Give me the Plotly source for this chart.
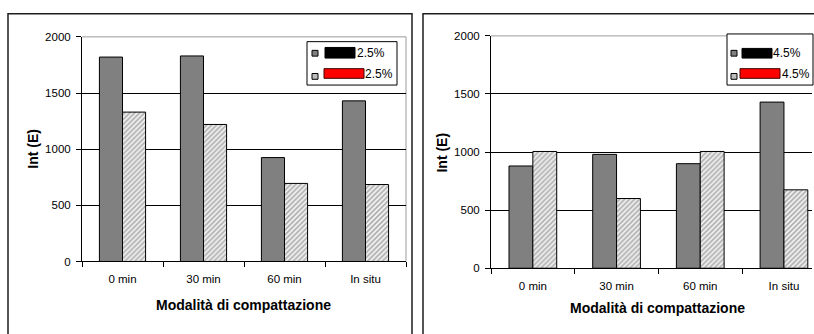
import plotly.graph_objects as go

# ---- data -------------------------------------------------------------
categories = ["0 min", "30 min", "60 min", "In situ"]

solid_25 = [1820, 1830, 925, 1430]
hatch_25 = [1330, 1220, 695, 685]

solid_45 = [880, 980, 900, 1430]
hatch_45 = [1005, 600, 1005, 675]

legend_25 = ["2.5%", "2.5%"]
legend_45 = ["4.5%", "4.5%"]

y_ticks = [0, 500, 1000, 1500, 2000]

# ---- canvas helpers ---------------------------------------------------
W, H = 814, 334
FONT = "Liberation Sans, Arial, sans-serif"


def px(x):
    return x / W


def py(y):
    return 1 - y / H


fig = go.Figure()

dark = "#808080"
pattern = dict(shape="/", size=3.5, solidity=0.5, fgcolor="#6a6a6a", bgcolor="#f4f4f4")

for vals, hvals, xa, ya in [(solid_25, hatch_25, "x", "y"), (solid_45, hatch_45, "x2", "y2")]:
    fig.add_trace(go.Bar(x=categories, y=vals, xaxis=xa, yaxis=ya, showlegend=False,
                         marker=dict(color=dark, line=dict(color="black", width=1))))
    fig.add_trace(go.Bar(x=categories, y=hvals, xaxis=xa, yaxis=ya, showlegend=False,
                         marker=dict(color="white", pattern=pattern,
                                     line=dict(color="black", width=1))))

xcommon = dict(type="category", tickson="boundaries", ticks="outside", ticklen=5,
               tickcolor="black", showline=True, linecolor="black", linewidth=1,
               showgrid=False, tickfont=dict(family=FONT, size=11.5, color="black"),
               ticklabelstandoff=7, fixedrange=True)
ycommon = dict(range=[0, 2000], tickvals=y_ticks, ticks="outside", ticklen=5,
               tickcolor="black", showline=True, linecolor="black", linewidth=1,
               showgrid=True, gridcolor="black", gridwidth=1, zeroline=False,
               tickfont=dict(family=FONT, size=11.5, color="black"),
               ticklabelstandoff=3, fixedrange=True)

fig.update_layout(
    width=W, height=H,
    margin=dict(l=0, r=0, t=0, b=0),
    paper_bgcolor="white", plot_bgcolor="white",
    barmode="group", bargap=0.43, bargroupgap=0,
    xaxis=dict(xcommon, domain=[px(82), px(406)], range=[-0.5, 3.5], anchor="y"),
    yaxis=dict(ycommon, domain=[py(265), py(32)], anchor="x"),
    xaxis2=dict(xcommon, domain=[px(491), px(812)], range=[-0.5, 3.335], anchor="y2"),
    yaxis2=dict(ycommon, domain=[py(272), py(31)], anchor="x2"),
    showlegend=False,
)

shapes = []
annotations = []


def rect(x0, y0, x1, y1, line_color="black", width=1, fill=None, layer="above"):
    shapes.append(dict(type="rect", xref="paper", yref="paper",
                       x0=px(x0), x1=px(x1), y0=py(y1), y1=py(y0),
                       line=dict(color=line_color, width=width),
                       fillcolor=fill if fill else "rgba(0,0,0,0)", layer=layer))


def line(x0, y0, x1, y1, color, width=1):
    shapes.append(dict(type="line", xref="paper", yref="paper",
                       x0=px(x0), x1=px(x1), y0=py(y0), y1=py(y1),
                       line=dict(color=color, width=width), layer="below"))


def text(x, y, s, size=11, bold=False, angle=0, xanchor="center"):
    annotations.append(dict(xref="paper", yref="paper", x=px(x), y=py(y), text=s,
                            showarrow=False, xanchor=xanchor, yanchor="middle",
                            textangle=angle,
                            font=dict(family=FONT, size=size, color="black",
                                      weight="bold" if bold else "normal")))


# panel frames
rect(8, 8, 412, 345, line_color="#1e1e1e", width=1.5)
rect(423, 8, 830, 345, line_color="#1e1e1e", width=1.5)

# plot-area top/right edges in grey
line(82, 32, 406, 32, "#9a9a9a")
line(406, 32, 406, 265, "#9a9a9a")
line(491, 31, 812, 31, "#9a9a9a")

# axis titles
text(33, 148, "<b>Int (E)</b>", size=14, angle=-90)
text(243, 310, "<b>Modalità di compattazione</b>", size=14)
text(442, 152, "<b>Int (E)</b>", size=14, angle=-90)
text(657, 313, "<b>Modalità di compattazione</b>", size=14)

# legends (left panel, then right panel)
for (bx0, by0, bx1, by1, sw_x, lab, black_box, red_box, t1, t2) in [
    (307, 37, 397, 82, 312, legend_25, (325, 43, 355, 54), (324, 65, 364, 75), 355, 363),
    (727, 29, 813, 82, 731, legend_45, (742, 44, 772, 54), (740, 65, 780, 75), 771, 780),
]:
    rect(bx0, by0, bx1, by1, fill="white")
    rect(sw_x, 46, sw_x + 6, 52, fill=dark)
    rect(sw_x, 70, sw_x + 6, 76, fill="#bdbdbd")
    rect(*black_box, line_color="black", fill="black")
    rect(*red_box, line_color="#400000", fill="#ff0000")
    text(t1, 49, lab[0], size=12, xanchor="left")
    text(t2, 71, lab[1], size=12, xanchor="left")

fig.update_layout(shapes=shapes, annotations=annotations)

fig.write_html("out.html")
